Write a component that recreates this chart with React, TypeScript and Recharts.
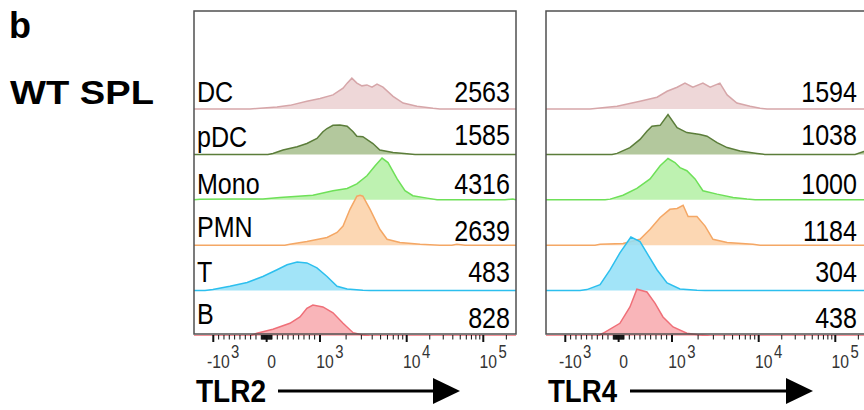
import React from 'react'
import { ComposedChart, Area, XAxis, YAxis } from 'recharts'

type Pt = [number, number]

// populations, top row first
const POPULATIONS = ['DC', 'pDC', 'Mono', 'PMN', 'T', 'B']
const TLR2_MFI = ['2563', '1585', '4316', '2639', '483', '828']
const TLR4_MFI = ['1594', '1038', '1000', '1184', '304', '438']

const STROKES = ['#d6a6a9', '#5b7d3a', '#6ee058', '#f4a765', '#2cbfee', '#ef6f78']
const FILLS = ['#ebd0d1', '#a6be8c', '#b3f0a3', '#fcd0a6', '#92dff7', '#f8a8ad']

// x = display channel (0..1024), y = events, 100 = one row height
const TLR2_DC: Pt[] = [[0, 0], [178, 0], [200, 1.3], [264, 4.4], [305, 8], [359, 17], [401, 23], [442, 31], [474, 46], [487, 57], [502, 68], [518, 57], [534, 51], [550, 53], [566, 48], [582, 55], [601, 48], [633, 28], [665, 13], [709, 6], [760, 1.5], [782, 0], [1024, 0]]
const TLR2_PDC: Pt[] = [[0, 0], [235, 0], [251, 2.2], [283, 9.5], [328, 17], [359, 24], [391, 35], [410, 50], [423, 57], [442, 64], [464, 65], [487, 62], [506, 50], [518, 40], [537, 39], [569, 24], [591, 9.5], [633, 4.4], [677, 1.5], [703, 0], [1024, 0]]
const TLR2_MONO: Pt[] = [[0, 0], [19, 1], [120, 1.5], [219, 2], [273, 5], [378, 10], [442, 20], [487, 25], [518, 35], [550, 53], [576, 75], [598, 92], [617, 82], [646, 46], [671, 20], [696, 9], [741, 3.7], [773, 0], [989, 0], [1014, 1.5], [1024, 0]]
const TLR2_PMN: Pt[] = [[0, 0], [289, 0], [305, 2.2], [359, 8], [423, 17], [455, 28], [474, 42], [496, 79], [518, 108], [528, 110], [537, 108], [560, 79], [591, 35], [614, 13], [655, 6], [719, 2.2], [782, 0], [820, 0], [836, 2.2], [862, 0], [1024, 0]]
const TLR2_T: Pt[] = [[0, 0], [35, 0], [60, 2.2], [114, 9.5], [169, 18], [219, 31], [264, 46], [296, 57], [328, 63], [359, 61], [391, 50], [423, 31], [455, 9.5], [487, 3.7], [537, 0.7], [560, 0], [1024, 0]]
const TLR2_B: Pt[] = [[0, 0], [178, 0], [200, 6], [251, 15], [305, 28], [337, 42], [359, 61], [378, 68], [410, 64], [442, 51], [474, 28], [506, 7.3], [537, 2.2], [560, 0], [1024, 0]]

const TLR4_DC: Pt[] = [[0, 0], [140, 0], [156, 1.1], [226, 6], [299, 17], [353, 26], [385, 39], [417, 48], [442, 57], [467, 48], [499, 57], [522, 48], [553, 57], [576, 31], [607, 13], [649, 6], [681, 1.5], [703, 0], [1024, 0]]
const TLR4_PDC: Pt[] = [[0, 0], [210, 0], [226, 2.2], [267, 15], [299, 33], [321, 51], [337, 62], [363, 64], [388, 88], [417, 59], [448, 48], [490, 44], [512, 40], [544, 26], [576, 15], [617, 7.3], [671, 2.2], [696, 0], [983, 0], [1011, 6.6], [1024, 8]]
const TLR4_MONO: Pt[] = [[0, 0], [188, 0], [204, 1.5], [245, 10], [289, 25], [331, 46], [363, 75], [388, 91], [410, 82], [426, 71], [448, 64], [474, 46], [499, 20], [544, 12.5], [595, 5], [639, 1.5], [665, 0], [1024, 0]]
const TLR4_PMN: Pt[] = [[0, 0], [156, 0], [172, 2.2], [245, 3.7], [299, 13], [331, 35], [363, 61], [394, 79], [417, 81], [436, 88], [452, 63], [480, 63], [506, 42], [531, 13], [576, 6], [658, 2.2], [681, 0], [1024, 0]]
const TLR4_T: Pt[] = [[0, 0], [108, 0], [130, 2.2], [172, 13], [204, 46], [235, 83], [270, 118], [299, 108], [324, 79], [353, 46], [385, 17], [426, 3.7], [480, 0.7], [506, 0], [1024, 0]]
const TLR4_B: Pt[] = [[0, 0], [165, 0], [181, 6], [235, 28], [267, 64], [289, 103], [321, 97], [347, 72], [372, 42], [404, 20], [448, 6], [490, 2.2], [522, 0], [1024, 0]]

const TLR2_SERIES = [TLR2_DC, TLR2_PDC, TLR2_MONO, TLR2_PMN, TLR2_T, TLR2_B]
const TLR4_SERIES = [TLR4_DC, TLR4_PDC, TLR4_MONO, TLR4_PMN, TLR4_T, TLR4_B]

// axis ticks (fluorescence values) and their labels
const MAJOR_VALUES = [-1000, 0, 1000, 10000, 100000]
const MAJOR_BASE = ['-10', '0', '10', '10', '10']
const MAJOR_EXP = ['3', '', '3', '4', '5']

// logicle display: linear around zero, log decades above 10^3
const LIN_ZERO = 231
const LIN_SLOPE = 0.16965
const DECADE_VALUES = [1000, 10000, 100000]
const DECADE_CHANNELS = [400.7, 676.4, 920]

function toChannel(v: number) {
  if (v <= 1000) return LIN_ZERO + v * LIN_SLOPE
  let i = v >= 100000 ? 2 : v >= 10000 ? 1 : 0
  const width = i < 2 ? DECADE_CHANNELS[i + 1] - DECADE_CHANNELS[i] : DECADE_CHANNELS[2] - DECADE_CHANNELS[1]
  return DECADE_CHANNELS[i] + Math.log10(v / DECADE_VALUES[i]) * width
}

const MINOR_VALUES: number[] = []
for (let m = 1; m <= 9; m++) {
  MINOR_VALUES.push(-m * 100, -m * 10, m * 10, m * 100)
  if (m > 1) MINOR_VALUES.push(m * 1000, m * 10000)
}
MINOR_VALUES.push(200000)

const MAJOR_CH = MAJOR_VALUES.map(toChannel)
const ALL_TICKS = [...MAJOR_CH, ...MINOR_VALUES.map(toChannel)].sort((a, b) => a - b)

const FONT = '"Liberation Sans", Arial, Helvetica, sans-serif'
const PLOT_TOP = 11
const PLOT_H = 325
const ROW_PX = 45.4
const Y_MAX = (PLOT_H / ROW_PX) * 100
const LABEL_DY = [-7.5, -7.5, -6, -8, -9, -12]
const NUM_DY = [-7.5, -9, -6, -4.5, -9, -8]

function AxisTick(props: any) {
  const { x, y, payload } = props
  const idx = MAJOR_CH.findIndex((c) => Math.abs(c - payload.value) < 1e-6)
  if (idx < 0) {
    return <line x1={x} x2={x} y1={y - 1} y2={y + 3.5} stroke="#111" strokeWidth={1} />
  }
  const base = MAJOR_BASE[idx]
  const exp = MAJOR_EXP[idx]
  const bw = base === '-10' ? 22.5 : base === '10' ? 17.5 : 9
  return (
    <g>
      <line x1={x} x2={x} y1={y - 1} y2={y + 6} stroke="#111" strokeWidth={2} />
      <text
        transform={`translate(${x + 5},${y + 32}) scale(0.85,1)`}
        textAnchor="middle"
        fontSize={18.5}
        fontFamily={FONT}
        fill="#333"
      >
        {base}
      </text>
      {exp && (
        <text
          transform={`translate(${x + 5 + bw / 2 + 1.5},${y + 22}) scale(0.85,1)`}
          fontSize={17.5}
          fontFamily={FONT}
          fill="#333"
        >
          {exp}
        </text>
      )}
    </g>
  )
}

function Panel({ left, series }: { left: number; series: Pt[][] }) {
  return (
    <div style={{ position: 'absolute', left, top: 0 }}>
      <ComposedChart width={352} height={410} margin={{ top: PLOT_TOP, right: 20, bottom: 34, left: 10 }}>
        <XAxis
          type="number"
          dataKey="x"
          domain={[0, 1024]}
          allowDataOverflow
          ticks={ALL_TICKS}
          interval={0}
          tick={(p: any) => <AxisTick {...p} />}
          tickSize={0}
          tickMargin={0}
          tickLine={false}
          axisLine={false}
          height={40}
        />
        <YAxis hide type="number" domain={[0, Y_MAX]} allowDataOverflow />
        {series.map((pts, i) => {
          const base = (POPULATIONS.length - 1 - i) * 100
          return (
            <Area
              key={POPULATIONS[i]}
              data={pts.map(([x, y]) => ({ x, y }))}
              dataKey={(d: any) => base + d.y}
              baseValue={base}
              type="linear"
              stroke={STROKES[i]}
              strokeWidth={1.5}
              fill={FILLS[i]}
              fillOpacity={0.85}
              dot={false}
              activeDot={false}
              isAnimationActive={false}
            />
          )
        })}
      </ComposedChart>
    </div>
  )
}

function rowY(i: number) {
  return PLOT_TOP + PLOT_H - (POPULATIONS.length - 1 - i) * ROW_PX
}

function Overlay() {
  return (
    <svg width={864} height={410} style={{ position: 'absolute', left: 0, top: 0 }} fontFamily={FONT}>
      <text x={9} y={38} fontSize={36} fontWeight="bold">b</text>
      <text x={10} y={104} fontSize={34} fontWeight="bold" textLength={144} lengthAdjust="spacingAndGlyphs">
        WT SPL
      </text>

      <rect x={194} y={11} width={322} height={323} fill="none" stroke="#505050" strokeWidth={1.5} />
      <rect x={546} y={11} width={322} height={323} fill="none" stroke="#505050" strokeWidth={1.5} />

      {POPULATIONS.map((p, i) => (
        <text
          key={p}
          transform={`translate(197,${rowY(i) + LABEL_DY[i]}) scale(0.85,1)`}
          fontSize={29.5}
        >
          {p}
        </text>
      ))}
      {TLR2_MFI.map((v, i) => (
        <text
          key={'a' + i}
          transform={`translate(510,${rowY(i) + NUM_DY[i]}) scale(0.85,1)`}
          fontSize={29.5}
          textAnchor="end"
        >
          {v}
        </text>
      ))}
      {TLR4_MFI.map((v, i) => (
        <text
          key={'b' + i}
          transform={`translate(857,${rowY(i) + NUM_DY[i]}) scale(0.85,1)`}
          fontSize={29.5}
          textAnchor="end"
        >
          {v}
        </text>
      ))}

      <text x={196} y={402} fontSize={31} fontWeight="bold" textLength={70} lengthAdjust="spacingAndGlyphs">
        TLR2
      </text>
      <line x1={278} x2={436} y1={391} y2={391} stroke="#000" strokeWidth={3} />
      <polygon points="433,378 460,391 433,404" fill="#000" />

      <text x={548} y={402} fontSize={31} fontWeight="bold" textLength={69} lengthAdjust="spacingAndGlyphs">
        TLR4
      </text>
      <line x1={630} x2={789} y1={391} y2={391} stroke="#000" strokeWidth={3} />
      <polygon points="786,378 813,391 786,404" fill="#000" />
    </svg>
  )
}

export default function App() {
  return (
    <div
      style={{
        position: 'absolute',
        left: 0,
        top: 0,
        width: 864,
        height: 410,
        overflow: 'hidden',
        background: '#fff',
      }}
    >
      <Panel left={184} series={TLR2_SERIES} />
      <Panel left={536} series={TLR4_SERIES} />
      <Overlay />
    </div>
  )
}
